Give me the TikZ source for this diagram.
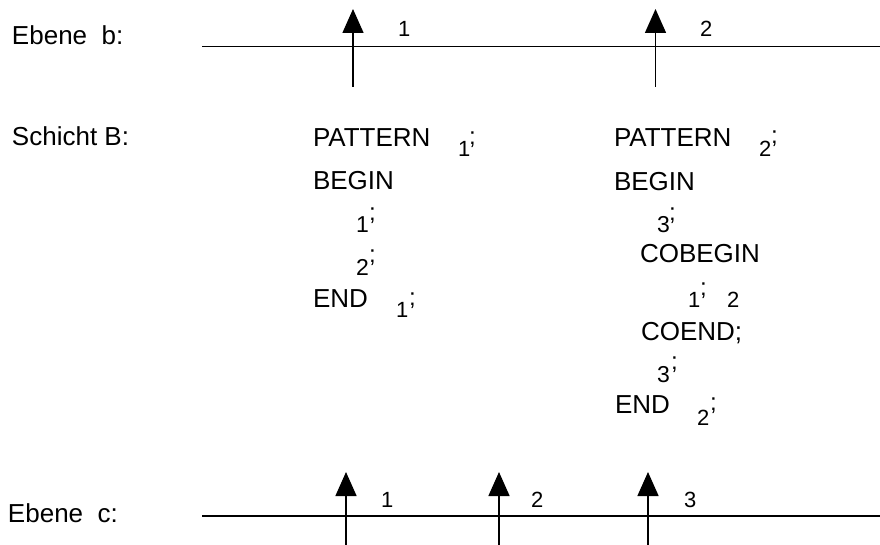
\documentclass[tikz,border=0pt]{standalone}
\usepackage{fontspec}
\setmainfont{Liberation Sans}
\usetikzlibrary{arrows.meta}

\begin{document}
\begin{tikzpicture}[x=1pt,y=-1pt,
  txt/.style={anchor=base west,inner sep=0pt,outer sep=0pt,font=\fontsize{26}{30}\selectfont},
  idx/.style={anchor=base west,inner sep=0pt,outer sep=0pt,font=\fontsize{22}{24}\selectfont},
  num/.style={anchor=base west,inner sep=0pt,outer sep=0pt,font=\fontsize{23}{26}\selectfont},
  semi/.style={anchor=base west,inner sep=0pt,outer sep=0pt,font=\fontsize{24}{26}\selectfont},
  tag/.style={anchor=base west,inner sep=0pt,outer sep=0pt,font=\fontsize{22}{24}\selectfont},
  level/.style={line width=1.5pt},
  flow/.style={line width=1.5pt,-{Triangle[width=21pt,length=24pt]}}]
\useasboundingbox (0,0) rectangle (880,545);

% level b
\node[txt] (lb) at (12,45) {Ebene\ \ b:};
\coordinate (b0) at (202,46.5);
\coordinate (b1) at (880,46.5);
\draw[level] (b0) -- (b1);
\coordinate (bs1) at (353,87);  \coordinate (bt1) at (353,9);
\coordinate (bs2) at (655.5,87); \coordinate (bt2) at (655.5,9);
\draw[flow] (bs1) -- (bt1);
\draw[flow] (bs2) -- (bt2);
\node[tag] (bn1) at (398,37) {1};
\node[tag] (bn2) at (700,37) {2};

% layer B
\node[txt] (lB) at (12,146) {Schicht B:};

% first pattern
\node[txt]  (p1a) at (313,147) {PATTERN};
\node[idx]  (p1b) at (458,157) {1};
\node[semi] (p1c) at (469,144.5) {;};
\node[txt]  (p1d) at (313,190) {BEGIN};
\node[num]  (p1e) at (356,233) {1};
\node[semi] (p1f) at (369,220.5) {;};
\node[num]  (p1g) at (356,275) {2};
\node[semi] (p1h) at (369,262.5) {;};
\node[txt]  (p1i) at (313,307) {END};
\node[idx]  (p1j) at (396,317) {1};
\node[semi] (p1k) at (409,305.5) {;};

% second pattern
\node[txt]  (p2a) at (614,147) {PATTERN};
\node[idx]  (p2b) at (759,157) {2};
\node[semi] (p2c) at (771,143.5) {;};
\node[txt]  (p2d) at (614,191) {BEGIN};
\node[num]  (p2e) at (657,233) {3};
\node[semi] (p2f) at (669,220.5) {;};
\node[txt]  (p2g) at (640,262) {COBEGIN};
\node[idx]  (p2h) at (688,307) {1};
\node[semi] (p2i) at (700,295.5) {;};
\node[idx]  (p2j) at (727,307) {2};
\node[txt]  (p2k) at (641,340) {COEND;};
\node[num]  (p2l) at (657,382) {3};
\node[semi] (p2m) at (671,369.5) {;};
\node[txt]  (p2n) at (615,413) {END};
\node[idx]  (p2o) at (697,425) {2};
\node[semi] (p2p) at (710,410.5) {;};

% level c
\node[txt] (lc) at (8,522) {Ebene\ \ c:};
\coordinate (c0) at (202,516);
\coordinate (c1) at (880,516);
\draw[level] (c0) -- (c1);
\coordinate (cs1) at (346,545); \coordinate (ct1) at (346,472);
\coordinate (cs2) at (499,545); \coordinate (ct2) at (499,472);
\coordinate (cs3) at (648,545); \coordinate (ct3) at (648,472);
\draw[flow] (cs1) -- (ct1);
\draw[flow] (cs2) -- (ct2);
\draw[flow] (cs3) -- (ct3);
\node[tag] (cn1) at (381,507) {1};
\node[tag] (cn2) at (531,507) {2};
\node[tag] (cn3) at (684,507) {3};
\end{tikzpicture}
\end{document}
